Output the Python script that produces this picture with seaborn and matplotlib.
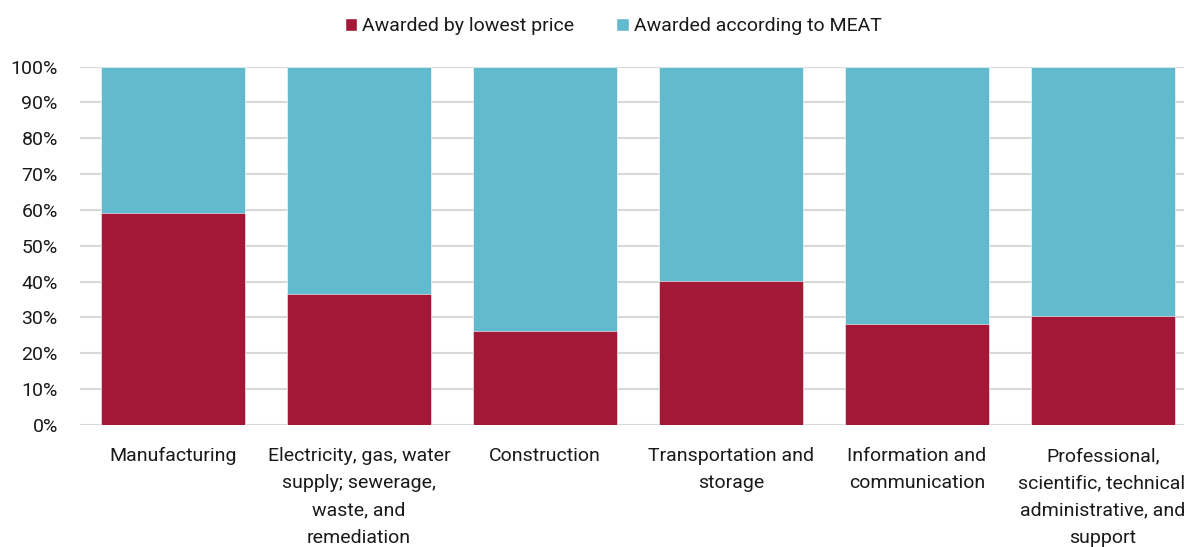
import numpy as np
import pandas as pd
import matplotlib
matplotlib.use("Agg")
import matplotlib.pyplot as plt
from matplotlib.patches import Patch
from matplotlib.ticker import PercentFormatter
import seaborn as sns

# data (% of contracts)
sectors = ["Manufacturing",
           "Electricity, gas, water\nsupply; sewerage,\nwaste, and\nremediation",
           "Construction",
           "Transportation and\nstorage",
           "Information and\ncommunication",
           "Professional,\nscientific, technical,\nadministrative, and\nsupport"]
lowest_price = [59.0, 36.5, 26.2, 40.2, 28.2, 30.4]
meat = [41.0, 63.5, 73.8, 59.8, 71.8, 69.6]

red = "#A31836"
blue = "#62BACF"
txt = "#1a1a1a"

sns.set_style("white")
plt.rcParams['font.family'] = ['Roboto', 'DejaVu Sans']
plt.rcParams['font.size'] = 14

df = pd.DataFrame({"sector": sectors, "lowest": lowest_price, "meat": meat})
df["total"] = df["lowest"] + df["meat"]

fig = plt.figure(figsize=(11.84, 5.47), dpi=100)
ax = fig.add_axes([80/1184, 122/547, 1116/1184, 358.5/547])

sns.barplot(data=df, x="sector", y="total", color=blue, width=0.77,
            saturation=1, edgecolor="white", linewidth=0.4, ax=ax, zorder=2)
sns.barplot(data=df, x="sector", y="lowest", color=red, width=0.77,
            saturation=1, edgecolor="white", linewidth=0.4, ax=ax, zorder=3)

ax.set_ylim(0, 100)
ax.set_xlim(-0.5, len(sectors) - 0.5)
ax.set_yticks(np.arange(0, 101, 10))
ax.yaxis.set_major_formatter(PercentFormatter(decimals=0))
ax.set_xticks(range(len(sectors)), sectors)
ax.grid(axis="y", color="#d9d9d9", linewidth=1.5, zorder=0)
ax.set_axisbelow(True)
for s in ax.spines.values():
    s.set_visible(False)
ax.set_xlabel("")
ax.set_ylabel("")
ax.tick_params(axis="y", length=0, pad=16, labelsize=14, labelcolor=txt)
ax.tick_params(axis="x", length=0, pad=16, labelsize=14, labelcolor=txt)
for lab in ax.get_xticklabels():
    lab.set_linespacing(1.65)
    lab.set_verticalalignment("top")

handles = [Patch(facecolor=red, label="Awarded by lowest price"),
           Patch(facecolor=blue, label="Awarded according to MEAT")]
fig.legend(handles=handles, loc="center", bbox_to_anchor=(613/1184, 1 - 26/547),
           ncol=2, frameon=False, fontsize=14, handlelength=0.65, handleheight=0.65,
           handletextpad=0.25, columnspacing=2.15, labelcolor=txt,
           borderpad=0, borderaxespad=0)

fig.savefig("out.png", dpi=100)
